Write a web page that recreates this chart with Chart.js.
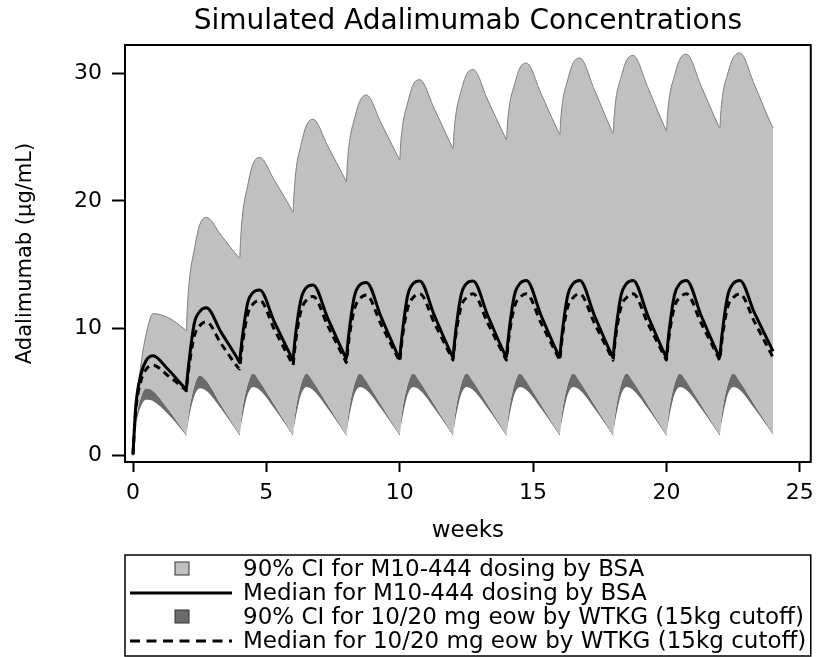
<!DOCTYPE html>
<html>
<head>
<meta charset="utf-8">
<title>Simulated Adalimumab Concentrations</title>
<script src="https://cdn.jsdelivr.net/npm/chart.js@4.4.1/dist/chart.umd.min.js"></script>
<style>
  html, body { margin: 0; padding: 0; background: #fff; }
  #wrap { width: 822px; height: 657px; }
</style>
</head>
<body>
<div id="wrap"><canvas id="chart_adalimumab" width="822" height="657"></canvas></div>
<script>
// time grid (weeks): each 2-week dosing cycle sampled at dose, +0.03, +0.1, +0.3, +0.5, +0.75, +1.3, +1.95
var weeks = [
  0, 0.03, 0.1, 0.3, 0.5, 0.75, 1.3, 1.95,
  2, 2.03, 2.1, 2.3, 2.5, 2.75, 3.3, 3.95,
  4, 4.03, 4.1, 4.3, 4.5, 4.75, 5.3, 5.95,
  6, 6.03, 6.1, 6.3, 6.5, 6.75, 7.3, 7.95,
  8, 8.03, 8.1, 8.3, 8.5, 8.75, 9.3, 9.95,
  10, 10.03, 10.1, 10.3, 10.5, 10.75, 11.3, 11.95,
  12, 12.03, 12.1, 12.3, 12.5, 12.75, 13.3, 13.95,
  14, 14.03, 14.1, 14.3, 14.5, 14.75, 15.3, 15.95,
  16, 16.03, 16.1, 16.3, 16.5, 16.75, 17.3, 17.95,
  18, 18.03, 18.1, 18.3, 18.5, 18.75, 19.3, 19.95,
  20, 20.03, 20.1, 20.3, 20.5, 20.75, 21.3, 21.95,
  22, 22.03, 22.1, 22.3, 22.5, 22.75, 23.3, 23.95,
  24
];

// 90% CI upper bound, M10-444 dosing by BSA
var bsaUpper = [
  0, 1.2, 3.5, 7.2, 9.6, 11.15, 10.85, 9.9,
  9.8, 11.3, 13.5, 16.2, 18.1, 18.7, 17.3, 15.6,
  15.5, 16.8, 18.8, 21.2, 22.9, 23.4, 21.6, 19.3,
  19.1, 20.3, 22.2, 24.4, 25.9, 26.4, 24.3, 21.7,
  21.5, 22.7, 24.4, 26.4, 27.8, 28.3, 26.1, 23.4,
  23.2, 24.3, 25.8, 27.7, 29.1, 29.5, 27.2, 24.3,
  24.1, 25.2, 26.7, 28.6, 29.9, 30.3, 27.9, 25.0,
  24.8, 25.8, 27.3, 29.1, 30.4, 30.8, 28.4, 25.4,
  25.2, 26.2, 27.7, 29.5, 30.8, 31.2, 28.7, 25.5,
  25.3, 26.3, 27.9, 29.7, 31.0, 31.4, 28.9, 25.7,
  25.5, 26.5, 28.0, 29.8, 31.1, 31.5, 29.0, 25.9,
  25.7, 26.7, 28.2, 30.0, 31.2, 31.6, 29.1, 25.9,
  25.7
];

// 90% CI lower bound, M10-444 dosing by BSA
var bsaLower = [
  0, 0.9, 2.6, 4.6, 5.3, 5.1, 3.7, 1.8,
  1.65, 2.35, 3.5, 5.5, 6.3, 5.9, 4.0, 1.85,
  1.7, 2.4, 3.6, 5.6, 6.45, 5.85, 4.0, 1.85,
  1.7, 2.4, 3.6, 5.6, 6.45, 5.85, 4.0, 1.85,
  1.7, 2.4, 3.6, 5.6, 6.45, 5.85, 4.0, 1.85,
  1.7, 2.4, 3.6, 5.6, 6.45, 5.85, 4.0, 1.85,
  1.7, 2.4, 3.6, 5.6, 6.45, 5.85, 4.0, 1.85,
  1.7, 2.4, 3.6, 5.6, 6.45, 5.85, 4.0, 1.85,
  1.7, 2.4, 3.6, 5.6, 6.45, 5.85, 4.0, 1.85,
  1.7, 2.4, 3.6, 5.6, 6.45, 5.85, 4.0, 1.85,
  1.7, 2.4, 3.6, 5.6, 6.45, 5.85, 4.0, 1.85,
  1.7, 2.4, 3.6, 5.6, 6.45, 5.85, 4.0, 1.9,
  1.75
];

// 90% CI lower bound, 10/20 mg eow by WTKG
var wtkgLower = [
  0, 0.7, 2.2, 3.9, 4.4, 4.3, 3.3, 1.7,
  1.55, 2.1, 3.0, 4.7, 5.3, 5.1, 3.7, 1.75,
  1.6, 2.15, 3.0, 4.8, 5.4, 5.15, 3.7, 1.75,
  1.6, 2.15, 3.0, 4.8, 5.4, 5.15, 3.7, 1.75,
  1.6, 2.15, 3.0, 4.8, 5.4, 5.15, 3.7, 1.75,
  1.6, 2.15, 3.0, 4.8, 5.4, 5.15, 3.7, 1.75,
  1.6, 2.15, 3.0, 4.8, 5.4, 5.15, 3.7, 1.75,
  1.6, 2.15, 3.0, 4.8, 5.4, 5.15, 3.7, 1.75,
  1.6, 2.15, 3.0, 4.8, 5.4, 5.15, 3.7, 1.75,
  1.6, 2.15, 3.0, 4.8, 5.4, 5.15, 3.7, 1.75,
  1.6, 2.15, 3.0, 4.8, 5.4, 5.15, 3.7, 1.75,
  1.6, 2.15, 3.0, 4.8, 5.4, 5.15, 3.7, 1.8,
  1.65
];

// medians
var bsaMedian = [
  0.1, 1.3, 3.8, 6.4, 7.5, 7.85, 6.8, 5.3,
  5.2, 6.0, 7.4, 10.4, 11.3, 11.6, 9.7, 7.5,
  7.3, 8.0, 9.3, 12.0, 12.8, 13.0, 10.5, 7.7,
  7.5, 8.2, 9.6, 12.3, 13.2, 13.4, 10.8, 7.8,
  7.6, 8.3, 9.7, 12.5, 13.4, 13.6, 10.9, 7.8,
  7.6, 8.3, 9.7, 12.6, 13.5, 13.7, 11.0, 7.9,
  7.7, 8.4, 9.8, 12.6, 13.5, 13.7, 11.0, 7.9,
  7.7, 8.4, 9.8, 12.6, 13.5, 13.75, 11.0, 7.9,
  7.7, 8.4, 9.8, 12.6, 13.5, 13.75, 11.0, 7.9,
  7.7, 8.4, 9.8, 12.6, 13.5, 13.75, 11.0, 7.9,
  7.7, 8.4, 9.8, 12.6, 13.5, 13.75, 11.0, 7.9,
  7.7, 8.4, 9.8, 12.6, 13.5, 13.75, 11.2, 8.4,
  8.2
];
var wtkgMedian = [
  0.1, 1.2, 3.5, 5.9, 6.8, 7.1, 6.3, 5.2,
  5.1, 5.8, 7.0, 9.4, 10.2, 10.5, 8.8, 6.9,
  6.8, 7.4, 8.7, 11.1, 11.9, 12.2, 9.9, 7.3,
  7.1, 7.7, 9.0, 11.4, 12.2, 12.5, 10.2, 7.5,
  7.3, 7.9, 9.2, 11.5, 12.3, 12.6, 10.3, 7.6,
  7.4, 8.0, 9.3, 11.6, 12.4, 12.7, 10.4, 7.7,
  7.5, 8.1, 9.4, 11.7, 12.4, 12.7, 10.4, 7.7,
  7.5, 8.1, 9.4, 11.7, 12.4, 12.7, 10.4, 7.7,
  7.5, 8.1, 9.4, 11.7, 12.4, 12.7, 10.4, 7.7,
  7.5, 8.1, 9.4, 11.7, 12.4, 12.7, 10.4, 7.7,
  7.5, 8.1, 9.4, 11.7, 12.4, 12.7, 10.4, 7.7,
  7.5, 8.1, 9.4, 11.7, 12.4, 12.7, 10.5, 7.9,
  7.7
];

var xTickValues = [0, 5, 10, 15, 20, 25];
var yTickValues = [0, 10, 20, 30];

var labelCiBsa = '90% CI for M10-444 dosing by BSA';
var labelMedianBsa = 'Median for M10-444 dosing by BSA';
var labelCiWtkg = '90% CI for 10/20 mg eow by WTKG (15kg cutoff)';
var labelMedianWtkg = 'Median for 10/20 mg eow by WTKG (15kg cutoff)';

// dataset indices in the order they appear in the legend box
var legendOrder = [2, 1, 4, 0];

Chart.defaults.font.family = "'DejaVu Sans', sans-serif";
Chart.defaults.color = '#000';

var plotFrame = {
  id: 'plotFrame',
  afterDatasetsDraw: function(chart) {
    var a = chart.chartArea;
    var ctx = chart.ctx;
    ctx.save();
    ctx.strokeStyle = '#000';
    ctx.lineWidth = 2;
    ctx.strokeRect(a.left, a.top, a.right - a.left, a.bottom - a.top);
    ctx.restore();
  }
};

var boxedLegend = {
  id: 'boxedLegend',
  afterDraw: function(chart) {
    var ctx = chart.ctx;
    var a = chart.chartArea;
    var top = chart.scales.x.bottom;
    var bottom = chart.height - 1;
    var rowH = 24;
    var symLeft = a.left + 5, symRight = a.left + 107, symMid = a.left + 57;
    ctx.save();
    ctx.strokeStyle = '#000';
    ctx.lineWidth = 1.5;
    ctx.strokeRect(a.left, top, a.right - a.left, bottom - top);
    ctx.font = "23px 'DejaVu Sans', sans-serif";
    ctx.textBaseline = 'middle';
    ctx.textAlign = 'left';
    legendOrder.forEach(function(idx, i) {
      var ds = chart.data.datasets[idx];
      var y = top + 14 + i * rowH;
      if (ds.fill !== false) {
        ctx.fillStyle = ds.backgroundColor;
        ctx.fillRect(symMid - 7, y - 7, 14, 13);
        ctx.strokeStyle = '#333';
        ctx.lineWidth = 1;
        ctx.strokeRect(symMid - 7, y - 7, 14, 13);
      } else {
        ctx.strokeStyle = ds.borderColor;
        ctx.lineWidth = 3;
        ctx.setLineDash(ds.borderDash ? [10, 6.5] : []);
        ctx.beginPath();
        ctx.moveTo(symLeft, y);
        ctx.lineTo(symRight, y);
        ctx.stroke();
        ctx.setLineDash([]);
      }
      ctx.fillStyle = '#000';
      ctx.fillText(ds.label, a.left + 118, y + 1);
    });
    ctx.restore();
  }
};

var chart_adalimumab = new Chart(document.getElementById('chart_adalimumab'), {
  type: 'line',
  data: {
    labels: weeks,
    datasets: [
      {
        label: labelMedianWtkg,
        data: wtkgMedian,
        borderColor: '#000',
        borderWidth: 3,
        borderDash: [7, 5],
        fill: false
      },
      {
        label: labelMedianBsa,
        data: bsaMedian,
        borderColor: '#000',
        borderWidth: 3,
        fill: false
      },
      {
        label: labelCiBsa,
        data: bsaUpper,
        borderColor: '#7d7d7d',
        borderWidth: 1,
        backgroundColor: '#c0c0c0',
        fill: 3
      },
      {
        label: 'M10-444 lower bound',
        data: bsaLower,
        borderColor: 'rgba(0,0,0,0)',
        borderWidth: 0,
        fill: false
      },
      {
        label: labelCiWtkg,
        data: wtkgLower,
        borderColor: 'rgba(0,0,0,0)',
        borderWidth: 0,
        backgroundColor: '#6b6b6b',
        fill: 3
      }
    ]
  },
  options: {
    animation: false,
    responsive: false,
    elements: {
      point: { radius: 0 },
      line: { cubicInterpolationMode: 'monotone' }
    },
    layout: { padding: { top: 0, right: 4, bottom: 102, left: 0 } },
    plugins: {
      legend: { display: false },
      tooltip: { enabled: false },
      title: {
        display: true,
        text: 'Simulated Adalimumab Concentrations',
        fullSize: false,
        color: '#000',
        font: { size: 28, weight: 'normal', lineHeight: 1.2 },
        padding: { top: 5, bottom: 6.4 }
      }
    },
    scales: {
      x: {
        type: 'linear',
        min: -0.3,
        max: 25.41,
        afterBuildTicks: function(scale) {
          scale.ticks = xTickValues.map(function(v) { return { value: v }; });
        },
        afterFit: function(scale) { scale.height = 93; },
        ticks: { font: { size: 22 }, padding: 8, color: '#000', maxRotation: 0 },
        grid: { display: true, drawOnChartArea: false, drawTicks: true, tickLength: 10, tickWidth: 2, color: '#000' },
        border: { display: false },
        title: { display: true, text: 'weeks', color: '#000', font: { size: 23 }, padding: { top: 0, bottom: 10 } }
      },
      y: {
        type: 'linear',
        min: -0.49,
        max: 32.22,
        afterBuildTicks: function(scale) {
          scale.ticks = yTickValues.map(function(v) { return { value: v }; });
        },
        afterFit: function(scale) { scale.width = 125; },
        ticks: { font: { size: 22 }, padding: 10, color: '#000' },
        grid: { display: true, drawOnChartArea: false, drawTicks: true, tickLength: 13, tickWidth: 2, color: '#000' },
        border: { display: false },
        title: { display: true, text: 'Adalimumab (µg/mL)', color: '#000', font: { size: 21 }, padding: { top: 13, bottom: 0 } }
      }
    }
  },
  plugins: [plotFrame, boxedLegend]
});
</script>
</body>
</html>
